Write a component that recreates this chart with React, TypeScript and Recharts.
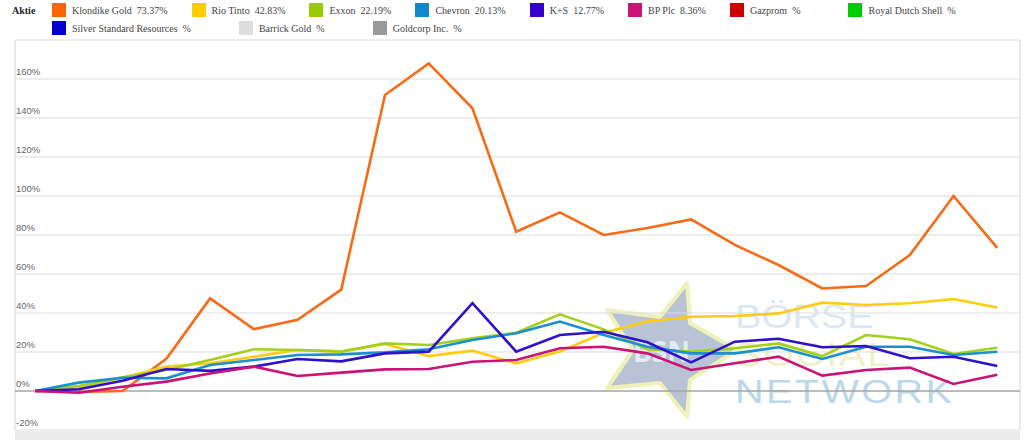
import React from 'react';
import { CartesianGrid, Line, LineChart, ReferenceLine, XAxis, YAxis } from 'recharts';

const weeks = [0, 1, 2, 3, 4, 5, 6, 7, 8, 9, 10, 11, 12, 13, 14, 15, 16, 17, 18, 19, 20, 21, 22];
const klondike = [0, -0.5, 0, 16.5, 47.5, 31.7, 36.5, 52, 151.8, 168, 145, 81.7, 91.6, 80, 83.6, 88, 74.9, 64.6, 52.6, 53.8, 69.7, 100, 73.37];
const rioTinto = [0, 2, 6.8, 12.5, 14.2, 17.6, 21, 20.3, 24.1, 17.9, 20.7, 14.2, 20.2, 29.9, 35.6, 38.1, 38.5, 39.8, 45.3, 44.1, 45, 47.2, 42.83];
const exxon = [0, 2.6, 7, 10.8, 15.9, 21.4, 21, 20.2, 24.4, 23.6, 27, 29.9, 39.3, 31.6, 21.4, 20.2, 21.9, 24.4, 17.9, 28.7, 26.5, 19, 22.19];
const chevron = [0, 4.3, 6.8, 6.5, 13.3, 15.9, 18.5, 18.8, 19.8, 21.4, 26.2, 29.6, 35.6, 28.7, 22.7, 19.3, 19.3, 22.4, 16.4, 22.7, 22.7, 18.5, 20.13];
const kPlusS = [0, 0.9, 5.3, 11.3, 10.3, 12.5, 16.4, 15.2, 19.3, 20.2, 45, 20.2, 28.7, 30.4, 25, 14.7, 25.3, 26.8, 22.4, 23.1, 16.8, 17.6, 12.77];
const bpPlc = [0, -0.9, 2.2, 4.8, 9, 12.5, 7.7, 9.4, 11.1, 11.3, 15, 15.9, 21.9, 22.7, 19.3, 10.8, 14.2, 17.6, 7.9, 10.8, 12, 3.6, 8.36];

// month boundaries (in week units) for the vertical grid
const monthTicks = [-0.07, 4.37, 8.35, 12.81, 17.13, 21.54];
const yTicks = [-20, 0, 20, 40, 60, 80, 100, 120, 140, 160, 180];

const legendItems = [
  { name: 'Klondike Gold', value: '73.37', color: '#ff6600' },
  { name: 'Rio Tinto', value: '42.83', color: '#ffcc00' },
  { name: 'Exxon', value: '22.19', color: '#99cc00' },
  { name: 'Chevron', value: '20.13', color: '#1188cc' },
  { name: 'K+S', value: '12.77', color: '#3300cc' },
  { name: 'BP Plc', value: '8.36', color: '#cc1177' },
  { name: 'Gazprom', value: '', color: '#cc0000' },
  { name: 'Royal Dutch Shell', value: '', color: '#00cc00' },
  { name: 'Silver Standard Resources', value: '', color: '#0000cc' },
  { name: 'Barrick Gold', value: '', color: '#dddddd' },
  { name: 'Goldcorp Inc.', value: '', color: '#999999' },
];

const series = [
  { key: 'klondike', values: klondike, color: '#f96a16' },
  { key: 'rio', values: rioTinto, color: '#ffcc11' },
  { key: 'exxon', values: exxon, color: '#a3d11a' },
  { key: 'chevron', values: chevron, color: '#1a90d0' },
  { key: 'ks', values: kPlusS, color: '#2f10cc' },
  { key: 'bp', values: bpPlc, color: '#cc1177' },
];

const watermarkWords = [
  { word: 'BÖRSE', color: '#dbe8f2', spacing: 0 },
  { word: 'SOCIAL', color: '#eef1c6', spacing: 1.5 },
  { word: 'NETWORK', color: '#bcd8e8', spacing: 2 },
];

const data = weeks.map((w, i) => {
  const row: Record<string, number> = { week: w };
  series.forEach((s) => {
    row[s.key] = s.values[i];
  });
  return row;
});

const YTick = ({ y, payload }: any) => {
  if (payload.value === 180) return <g />;
  return (
    <text x={16} y={y - 4} fontSize={9.5} fill="#666" fontFamily="'Liberation Sans', Arial, sans-serif">
      {payload.value}%
    </text>
  );
};

const Watermark = () => (
  <>
    <svg width={1024} height={440} style={{ position: 'absolute', left: 0, top: 0 }}>
      <polygon
        points="687,283 690,323 737,350 690,380 687,417 660,383 607,388 633,350 607,310 660,317"
        fill="#b9c3d6"
        stroke="#eef2b8"
        strokeWidth={4}
        strokeLinejoin="round"
      />
      <text x={633} y={362} fontSize={28} fontWeight={700} fill="#e2eaf3" fontFamily="'Open Sans', sans-serif">
        BSN
      </text>
    </svg>
    <div
      style={{
        position: 'absolute',
        left: 735,
        top: 298,
        fontFamily: "'Liberation Sans', sans-serif",
        fontSize: 33,
        transform: 'scaleX(1.2)',
        transformOrigin: 'left top',
      }}
    >
      {watermarkWords.map((w) => (
        <div key={w.word} style={{ color: w.color, letterSpacing: w.spacing, lineHeight: '37.5px', height: 37.5, whiteSpace: 'pre' }}>
          {w.word}
        </div>
      ))}
    </div>
  </>
);

const Legend = () => (
  <div style={{ position: 'absolute', left: 0, top: 0, width: 1024, fontFamily: "'Liberation Serif', serif", fontSize: 10, color: '#444' }}>
    <div style={{ position: 'absolute', left: 12, top: 5, fontWeight: 700, color: '#222' }}>Aktie</div>
    <div style={{ position: 'absolute', left: 52, top: 3, width: 960, display: 'flex', flexWrap: 'wrap', rowGap: 4 }}>
      {legendItems.map((it) => (
        <div key={it.name} style={{ display: 'flex', alignItems: 'center', marginRight: it.value ? 24 : 48, height: 14 }}>
          <span style={{ width: 14, height: 14, background: it.color, display: 'inline-block', marginRight: 6 }} />
          <span style={{ whiteSpace: 'pre' }}>{`${it.name}  ${it.value}%`}</span>
        </div>
      ))}
    </div>
  </div>
);

const App = () => (
  <div style={{ position: 'absolute', left: 0, top: 0, width: 1024, height: 440, background: '#fff', overflow: 'hidden' }}>
    <Watermark />
    <div style={{ position: 'absolute', left: 15, top: 431, width: 1005, height: 9, background: '#ececec' }} />
    <div style={{ position: 'absolute', left: 0, top: 0 }}>
      <LineChart width={1024} height={440} data={data} margin={{ top: 40, right: 4, bottom: 10, left: 15 }}>
        <CartesianGrid stroke="#dcdcdc" strokeWidth={1.2} />
        <XAxis
          dataKey="week"
          type="number"
          domain={[-0.46, 22.52]}
          ticks={monthTicks}
          interval={0}
          tick={false}
          axisLine={false}
          tickLine={false}
          height={0}
          allowDataOverflow
        />
        <YAxis
          type="number"
          domain={[-20, 180]}
          ticks={yTicks}
          interval={0}
          width={40}
          mirror
          axisLine={false}
          tickLine={false}
          tick={(p: any) => <YTick {...p} />}
          allowDataOverflow
        />
        <ReferenceLine y={0} stroke="#8a8a8a" strokeWidth={1} />
        {series.map((s) => (
          <Line
            key={s.key}
            dataKey={s.key}
            type="linear"
            stroke={s.color}
            strokeWidth={2.6}
            dot={false}
            activeDot={false}
            isAnimationActive={false}
          />
        ))}
      </LineChart>
    </div>
    <Legend />
  </div>
);

export default App;
